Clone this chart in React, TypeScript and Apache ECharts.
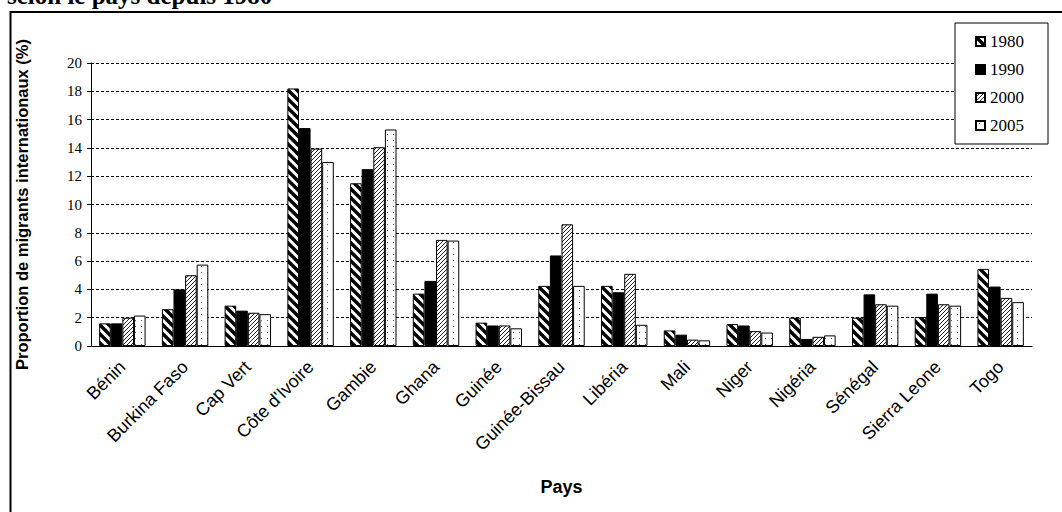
import React, { useEffect, useRef } from "react";
import * as echarts from "echarts";

// Proportion of international migrants by country (%)
const countries = [
  "Bénin",
  "Burkina Faso",
  "Cap Vert",
  "Côte d'Ivoire",
  "Gambie",
  "Ghana",
  "Guinée",
  "Guinée-Bissau",
  "Libéria",
  "Mali",
  "Niger",
  "Nigéria",
  "Sénégal",
  "Sierra Leone",
  "Togo",
];
const years = ["1980", "1990", "2000", "2005"];
const values1980 = [1.6, 2.6, 2.85, 18.2, 11.5, 3.7, 1.65, 4.25, 4.25, 1.1, 1.55, 2.0, 2.0, 2.05, 5.45];
const values1990 = [1.6, 4.0, 2.5, 15.4, 12.5, 4.6, 1.45, 6.4, 3.8, 0.8, 1.45, 0.5, 3.65, 3.7, 4.2];
const values2000 = [2.0, 5.0, 2.35, 13.95, 14.05, 7.5, 1.45, 8.6, 5.1, 0.45, 1.05, 0.65, 2.95, 2.95, 3.4];
const values2005 = [2.15, 5.75, 2.25, 13.0, 15.3, 7.45, 1.25, 4.25, 1.5, 0.4, 0.95, 0.75, 2.85, 2.85, 3.1];
const seriesValues = [values1980, values1990, values2000, values2005];

const yMin = 0;
const yMax = 20;
const yStep = 2;

const titleText = "selon le pays depuis 1980";
const yTitle = "Proportion de migrants internationaux (%)";
const xTitle = "Pays";

type Tile = { image: string; repeat: string; imageWidth: number; imageHeight: number };

// Small repeating tiles used as bar fills (black & white print style)
function makeTile(kind: string): Tile | string {
  if (kind === "solid") return "#000";
  const c = document.createElement("canvas");
  let w = 8;
  let h = 8;
  if (kind === "bigDiag") {
    w = h = 9;
  } else if (kind === "fineDiag") {
    w = h = 4;
  } else {
    w = 6;
    h = 6;
  }
  c.width = w;
  c.height = h;
  const ctx = c.getContext("2d")!;
  ctx.fillStyle = "#fff";
  ctx.fillRect(0, 0, w, h);
  if (kind === "bigDiag") {
    ctx.strokeStyle = "#000";
    ctx.lineWidth = 3.4;
    for (const o of [-w, 0, w]) {
      ctx.beginPath();
      ctx.moveTo(o - 1, -1);
      ctx.lineTo(o + w + 1, h + 1);
      ctx.stroke();
    }
  } else if (kind === "fineDiag") {
    ctx.strokeStyle = "#222";
    ctx.lineWidth = 1;
    for (const o of [-w, 0, w]) {
      ctx.beginPath();
      ctx.moveTo(o - 1, h + 1);
      ctx.lineTo(o + w + 1, -1);
      ctx.stroke();
    }
  } else {
    ctx.fillStyle = "#555";
    ctx.fillRect(3, 2, 1, 1);
  }
  return { image: c.toDataURL(), repeat: "repeat", imageWidth: w, imageHeight: h };
}

const fillKinds = ["bigDiag", "solid", "fineDiag", "dots"];

export default function App() {
  const ref = useRef<HTMLDivElement>(null);

  useEffect(() => {
    if (!ref.current) return;
    const chart = echarts.init(ref.current, undefined, { renderer: "svg" });
    const fills = fillKinds.map(makeTile);

    chart.setOption({
      animation: false,
      backgroundColor: "#fff",
      graphic: [
        {
          type: "rect",
          z: -10,
          shape: { x: 10.5, y: 12, width: 1200, height: 700 },
          style: { fill: "none", stroke: "#000", lineWidth: 2 },
          silent: true,
        },
        {
          type: "text",
          x: 7,
          y: -5,
          style: {
            text: titleText,
            font: "bold 25px 'Liberation Serif'",
            fill: "#000",
            verticalAlign: "middle",
          },
        },
      ],
      legend: {
        data: years,
        orient: "vertical",
        left: 955,
        top: 23,
        padding: [10, 24, 10, 20],
        itemGap: 11,
        itemWidth: 9,
        itemHeight: 9,
        icon: "rect",
        backgroundColor: "#fff",
        borderColor: "#000",
        borderWidth: 1,
        borderRadius: 0,
        textStyle: { fontFamily: "Liberation Serif", fontSize: 17, color: "#000" },
      },
      grid: { left: 91, right: 30, top: 63, bottom: 166, containLabel: false },
      xAxis: {
        type: "category",
        data: countries,
        name: xTitle,
        nameLocation: "middle",
        nameGap: 132,
        nameTextStyle: { fontFamily: "Liberation Sans", fontWeight: "bold", fontSize: 18, color: "#000" },
        axisLine: { lineStyle: { color: "#000", width: 1 } },
        axisTick: { length: 4, lineStyle: { color: "#000" } },
        axisLabel: {
          interval: 0,
          rotate: 45,
          margin: 18,
          fontFamily: "Liberation Sans",
          fontSize: 18,
          color: "#000",
        },
      },
      yAxis: {
        type: "value",
        min: yMin,
        max: yMax,
        interval: yStep,
        name: yTitle,
        nameLocation: "middle",
        nameGap: 61,
        nameTextStyle: { fontFamily: "Liberation Sans", fontWeight: "bold", fontSize: 16.5, color: "#000" },
        axisLine: { show: true, lineStyle: { color: "#000", width: 1 } },
        axisTick: { show: true, length: 4, lineStyle: { color: "#000" } },
        axisLabel: { fontFamily: "Liberation Serif", fontSize: 15, color: "#000", margin: 9 },
        splitLine: { show: true, lineStyle: { color: "#000", width: 1, type: [3, 2] } },
      },
      series: years.map((yr, i) => ({
        name: yr,
        type: "bar",
        data: seriesValues[i],
        barGap: "0%",
        barCategoryGap: "26%",
        itemStyle: { color: fills[i], borderColor: "#000", borderWidth: 1 },
      })),
    });

    return () => chart.dispose();
  }, []);

  return (
    <div
      ref={ref}
      style={{ position: "absolute", left: 0, top: 0, width: 1062, height: 512, background: "#fff" }}
    />
  );
}
